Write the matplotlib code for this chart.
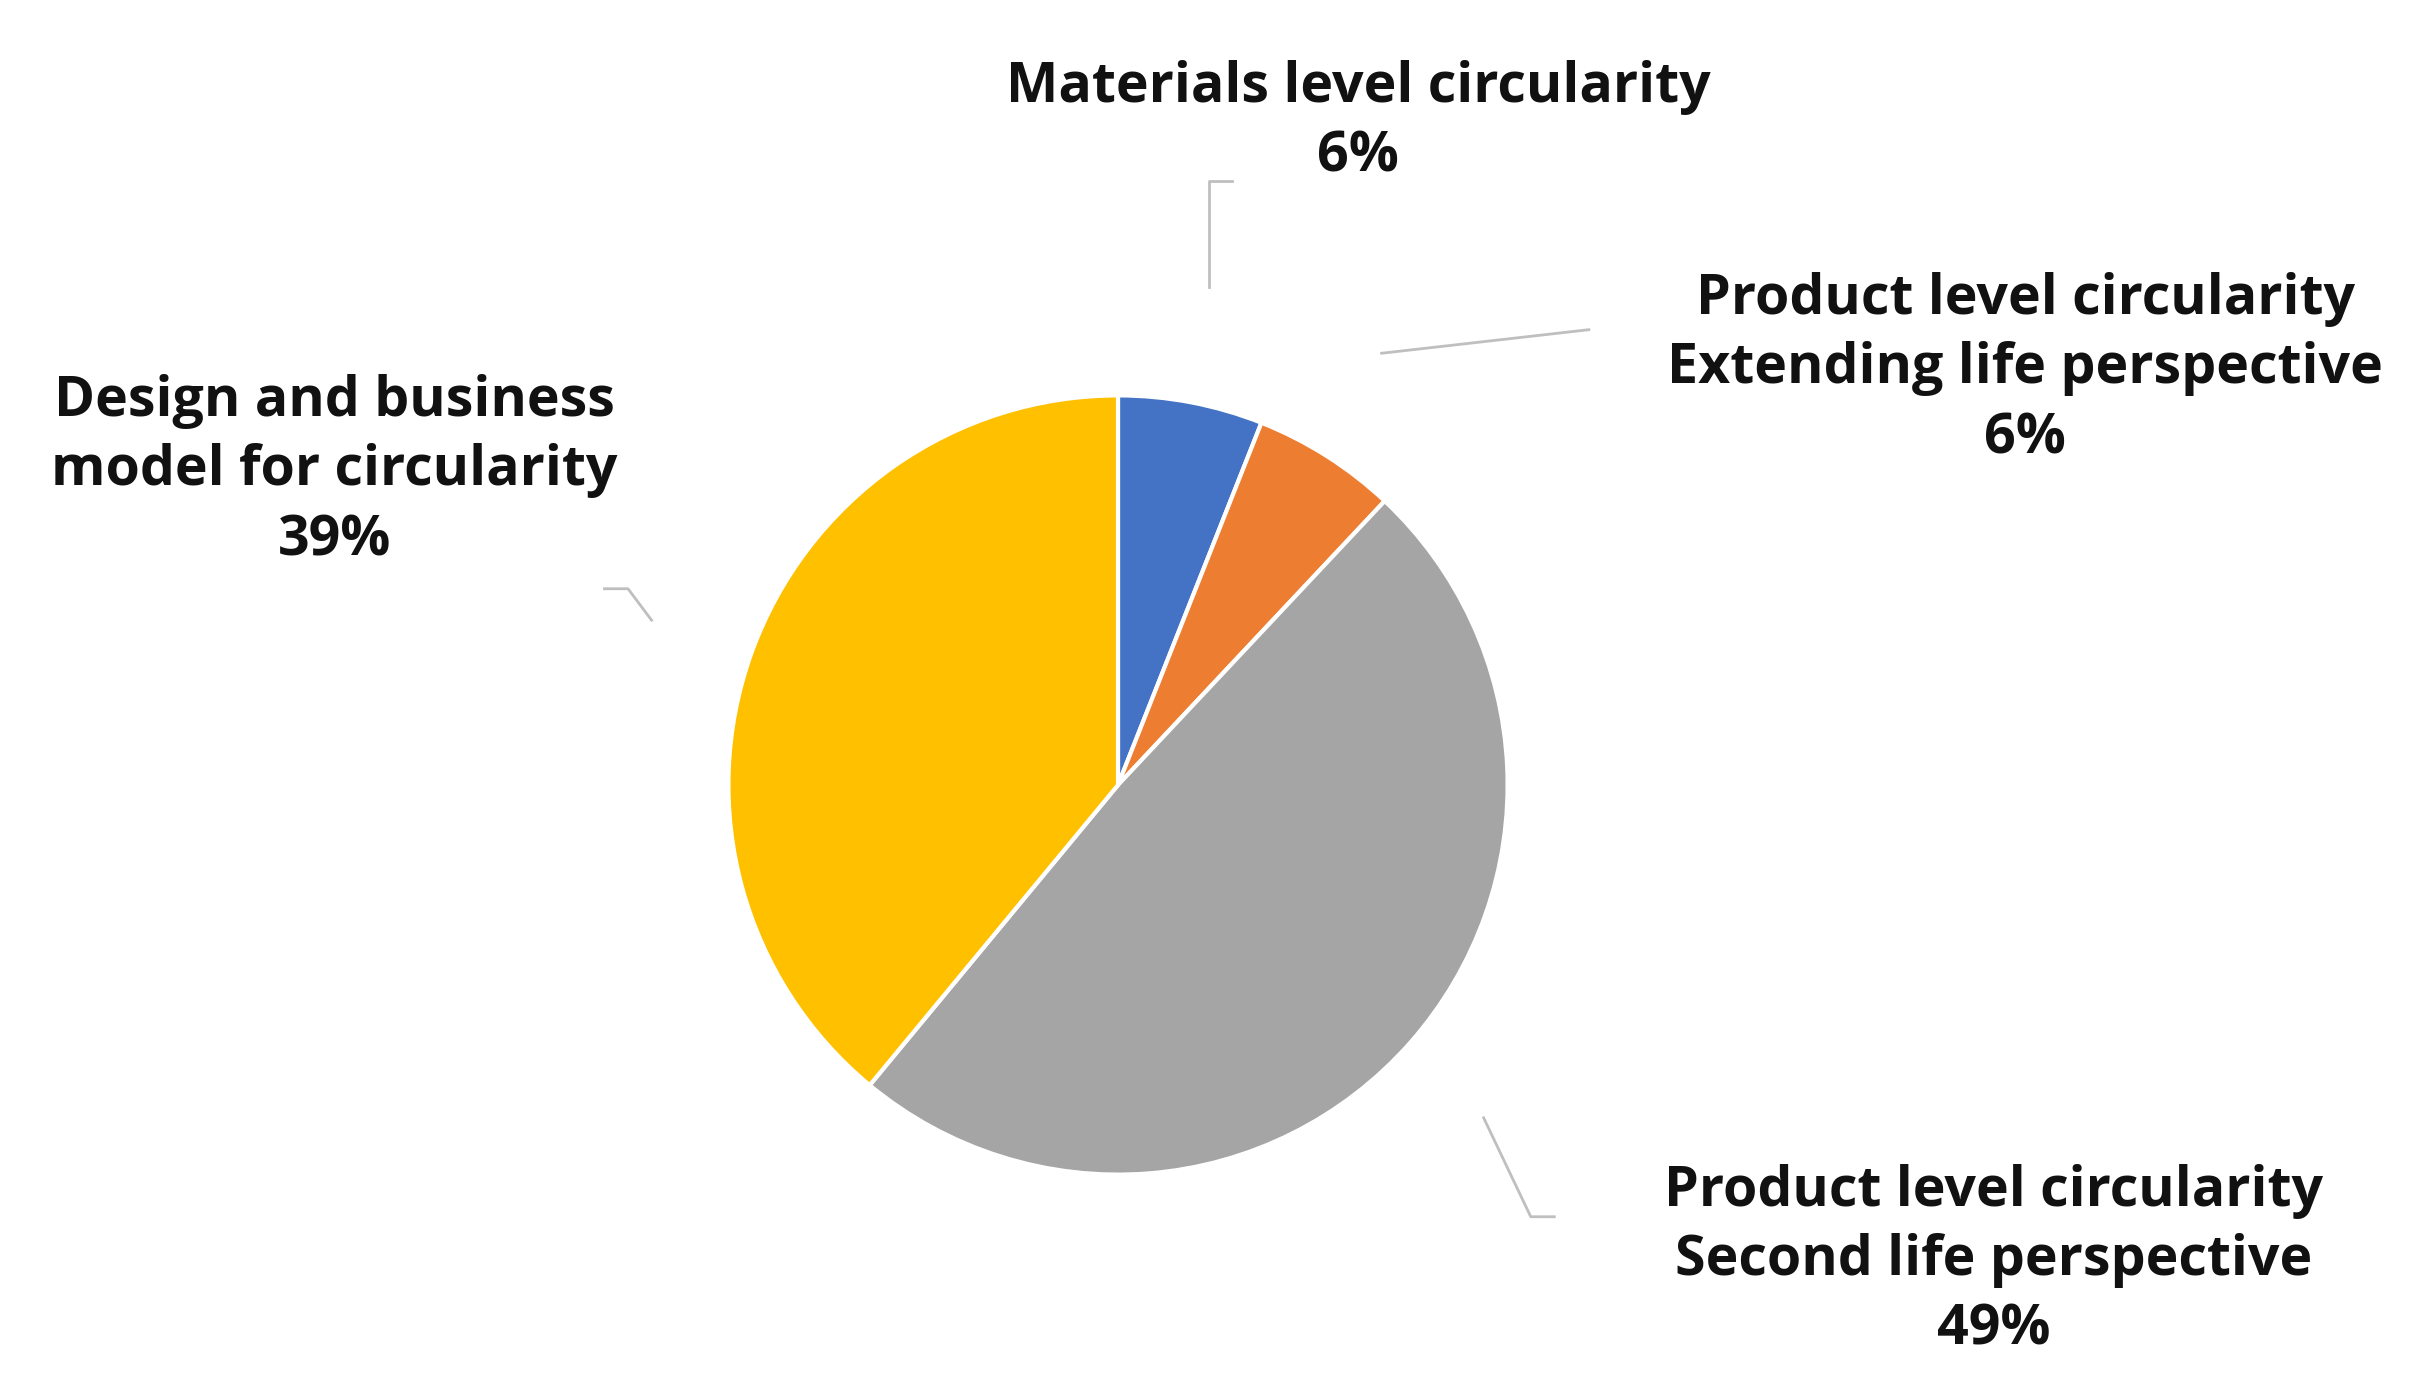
import matplotlib.pyplot as plt
from matplotlib.lines import Line2D

categories = ['Materials level circularity',
              'Product level circularity\nExtending life perspective',
              'Product level circularity\nSecond life perspective',
              'Design and business\nmodel for circularity']
shares = [6, 6, 49, 39]
colors = ['#4472C4', '#ED7D31', '#A5A5A5', '#FFC000']

W, H = 2433, 1391
fig = plt.figure(figsize=(W / 100, H / 100), dpi=100)
plt.rcParams['font.family'] = ['Open Sans', 'DejaVu Sans']

# pie centre ~ (1118, 785) px, radius ~ 487 px
cx, cy, r = 1118, 785, 487
ax = fig.add_axes([(cx - r) / W, 1 - (cy + r) / H, 2 * r / W, 2 * r / H])
ax.pie(shares, colors=colors, startangle=90, counterclock=False,
       wedgeprops=dict(edgecolor='white', linewidth=3))
ax.set_aspect('equal')

s = 1.57  # display-to-real scale used for reading positions
label_pos = [(865, 78), (1290, 235), (1270, 803), (213, 300)]
for cat, v, (x, y) in zip(categories, shares, label_pos):
    fig.text(x * s / W, 1 - y * s / H, cat + '\n' + '{}%'.format(v),
             ha='center', va='center', fontsize=40, fontweight='bold',
             linespacing=1.35, color='#111111')

leaders = [
    [(770, 183), (770, 115), (785, 115)],
    [(880, 225), (1012, 210)],
    [(945, 712), (975, 775), (990, 775)],
    [(415, 395), (400, 375), (385, 375)],
]
for pts in leaders:
    xs = [p[0] * s / W for p in pts]
    ys = [1 - p[1] * s / H for p in pts]
    fig.add_artist(Line2D(xs, ys, color='#BFBFBF', linewidth=2))

fig.savefig('out.png', dpi=100, facecolor='white')
